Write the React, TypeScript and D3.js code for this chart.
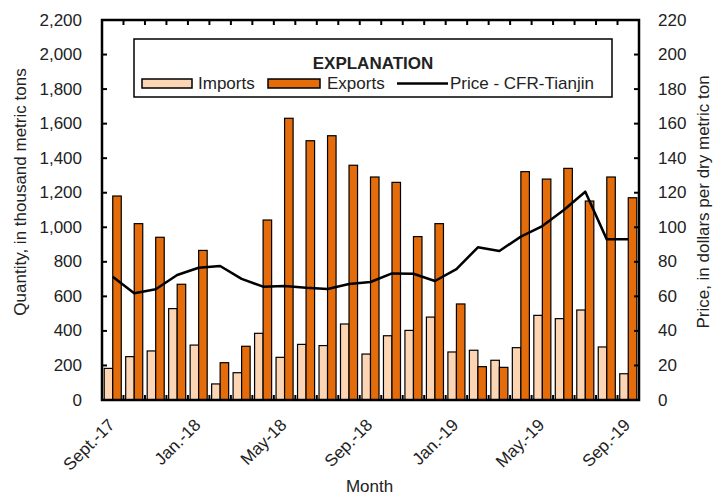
import React from 'react';
import * as d3 from 'd3';

const months = [
  'Sept.-17', 'Oct.-17', 'Nov.-17', 'Dec.-17', 'Jan.-18', 'Feb.-18', 'Mar.-18', 'Apr.-18',
  'May-18', 'Jun.-18', 'Jul.-18', 'Aug.-18', 'Sep.-18', 'Oct.-18', 'Nov.-18', 'Dec.-18',
  'Jan.-19', 'Feb.-19', 'Mar.-19', 'Apr.-19', 'May.-19', 'Jun.-19', 'Jul.-19', 'Aug.-19', 'Sep.-19'
];
const labeledMonths = ['Sept.-17', 'Jan.-18', 'May-18', 'Sep.-18', 'Jan.-19', 'May.-19', 'Sep.-19'];

// thousand metric tons
const imports = [183, 251, 284, 529, 318, 93, 158, 386, 247, 322, 315, 440, 266, 372, 403, 480, 278, 288, 230, 303, 490, 471, 521, 307, 152];
const exports = [1181, 1021, 942, 670, 866, 216, 311, 1042, 1631, 1501, 1530, 1359, 1291, 1260, 946, 1021, 556, 193, 189, 1322, 1279, 1341, 1152, 1291, 1171];
// dollars per dry metric ton
const price = [71.4, 61.8, 64.1, 72.4, 76.6, 77.6, 70.1, 65.6, 66, 65, 64.3, 67.2, 68.3, 73.3, 73.1, 68.9, 75.8, 88.4, 86.3, 94.6, 100.7, 110, 120.6, 93, 93];

const leftTicks = d3.range(0, 2201, 200);
const rightTicks = d3.range(0, 221, 20);

const IMPORT_COLOR = '#FCD5B4';
const EXPORT_COLOR = '#E46C0A';
const FONT = '"Liberation Sans", Arial, sans-serif';

const App: React.FC = () => {
  const width = 725;
  const height = 497;
  const margin = { top: 20, right: 86, bottom: 97, left: 102 };
  const x0 = margin.left;
  const x1 = width - margin.right;
  const y0 = height - margin.bottom;
  const yTop = margin.top;

  const x = d3.scaleBand<string>().domain(months).range([x0, x1]).padding(0);
  const xs = d3.scaleBand<string>().domain(['imports', 'exports'])
    .range([0, x.bandwidth()]).paddingInner(0).paddingOuter(0.26);
  const y = d3.scaleLinear().domain([0, 2200]).range([y0, yTop]);
  const yr = d3.scaleLinear().domain([0, 220]).range([y0, yTop]);

  const line = d3.line<number>()
    .x((_, i) => x(months[i])! + x.bandwidth() / 2)
    .y(d => yr(d));

  const boundaries = months.slice(1).map(m => x(m)!);

  return (
    <svg width={width} height={height} style={{ position: 'absolute', left: 0, top: 0, background: '#fff' }}
      fontFamily={FONT} fontSize={17}>
      {/* bars */}
      {months.map((m, i) => (
        <g key={m}>
          <rect x={x(m)! + xs('imports')!} y={y(imports[i])} width={xs.bandwidth()}
            height={y0 - y(imports[i])} fill={IMPORT_COLOR} stroke="#000" strokeWidth={1.2} />
          <rect x={x(m)! + xs('exports')!} y={y(exports[i])} width={xs.bandwidth()}
            height={y0 - y(exports[i])} fill={EXPORT_COLOR} stroke="#000" strokeWidth={1.2} />
        </g>
      ))}

      {/* price line */}
      <path d={line(price)!} fill="none" stroke="#000" strokeWidth={2.5} strokeLinejoin="round" />

      {/* frame */}
      <rect x={x0} y={yTop} width={x1 - x0} height={y0 - yTop} fill="none" stroke="#000" strokeWidth={2.5} />

      {/* month ticks top & bottom */}
      {boundaries.map((bx, i) => (
        <g key={i}>
          <line x1={bx} x2={bx} y1={yTop} y2={yTop + 5} stroke="#000" strokeWidth={2} />
          <line x1={bx} x2={bx} y1={y0} y2={y0 - 5} stroke="#000" strokeWidth={2} />
        </g>
      ))}

      {/* left axis */}
      {leftTicks.map(t => (
        <g key={t}>
          <line x1={x0} x2={x0 + 5} y1={y(t)} y2={y(t)} stroke="#000" strokeWidth={2} />
          <text x={x0 - 20} y={y(t)} textAnchor="end" dominantBaseline="central" fill="#222">
            {d3.format(',')(t)}
          </text>
        </g>
      ))}

      {/* right axis */}
      {rightTicks.map(t => (
        <g key={t}>
          <line x1={x1} x2={x1 - 5} y1={yr(t)} y2={yr(t)} stroke="#000" strokeWidth={2} />
          <text x={x1 + 19} y={yr(t)} textAnchor="start" dominantBaseline="central" fill="#222">
            {t}
          </text>
        </g>
      ))}

      {/* month labels */}
      {labeledMonths.map(m => {
        const cx = x(m)! + x.bandwidth() / 2;
        return (
          <text key={m} transform={`translate(${cx + 3},${y0 + 26}) rotate(-45)`} textAnchor="end" fill="#222">
            {m}
          </text>
        );
      })}

      {/* axis titles */}
      <text x={x0 + (x1 - x0) / 2 - 1} y={492} textAnchor="middle" fill="#222">Month</text>
      <text transform={`translate(20,192) rotate(-90)`} textAnchor="middle" dominantBaseline="central" fill="#222">
        Quantity, in thousand metric tons
      </text>
      <text transform={`translate(703,202) rotate(-90)`} textAnchor="middle" dominantBaseline="central" fill="#222">
        Price, in dollars per dry metric ton
      </text>

      {/* legend */}
      <g>
        <rect x={134} y={39} width={478} height={58} fill="#fff" stroke="#000" strokeWidth={1.5} />
        <text x={373} y={69} textAnchor="middle" fontWeight="bold" fill="#222">EXPLANATION</text>
        <rect x={142} y={79} width={50} height={9} fill={IMPORT_COLOR} stroke="#000" strokeWidth={1.5} />
        <text x={198} y={89} fill="#222">Imports</text>
        <rect x={268} y={79} width={52} height={9} fill={EXPORT_COLOR} stroke="#000" strokeWidth={1.5} />
        <text x={327} y={89} fill="#222">Exports</text>
        <line x1={397} x2={448} y1={83.5} y2={83.5} stroke="#000" strokeWidth={2.5} />
        <text x={450} y={89} fill="#222">Price - CFR-Tianjin</text>
      </g>
    </svg>
  );
};

export default App;
